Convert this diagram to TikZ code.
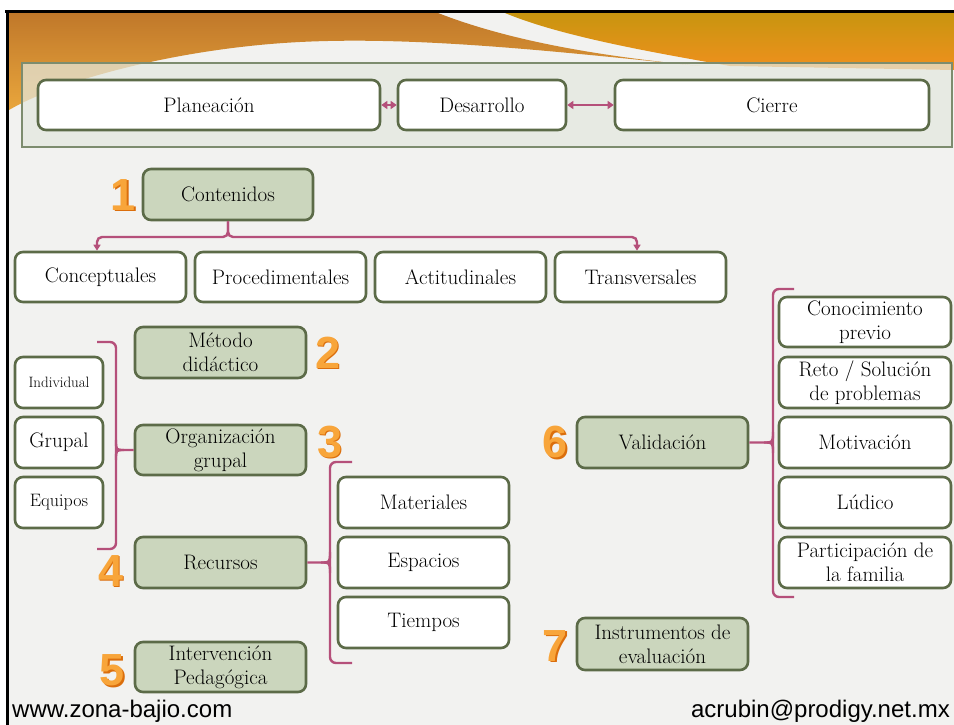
\documentclass[tikz,border=0pt]{standalone}
\usepackage{fontspec}
\newfontfamily\footfont{Liberation Sans}
\newfontfamily\digitfont{Liberation Sans}
\usetikzlibrary{arrows.meta}
\definecolor{boxline}{HTML}{5C6B48}
\definecolor{boxgreen}{HTML}{CBD6BD}
\definecolor{conncol}{HTML}{B5507A}
\definecolor{slidebg}{HTML}{F2F2F0}
\definecolor{barfill}{HTML}{E4E8DE}
\definecolor{barline}{HTML}{7D8C6E}
\definecolor{digitor}{HTML}{F8A53A}
\definecolor{digitdark}{HTML}{DB6E0C}
\definecolor{orA1}{HTML}{C0782A}
\definecolor{orA2}{HTML}{E9A63C}
\definecolor{orB1}{HTML}{C8950F}
\definecolor{orB2}{HTML}{F0901E}
\tikzset{
  box/.style={draw=boxline, line width=2.6pt, rounded corners=8pt, align=center,
    inner sep=0pt, font=\fontsize{21}{24}\selectfont, text=black},
  wbox/.style={box, fill=white},
  gbox/.style={box, fill=boxgreen},
  conn/.style={draw=conncol, line width=2.4pt},
  tipboth/.style={{Triangle[length=6pt,width=8pt]}-{Triangle[length=6pt,width=8pt]}},
  tipend/.style={-{Triangle[length=6pt,width=7pt]}},
  digitface/.style={font=\digitfont\bfseries\fontsize{45}{45}\selectfont, text=digitor, inner sep=0pt},
  digitshade/.style={font=\digitfont\bfseries\fontsize{45}{45}\selectfont, text=digitdark, inner sep=0pt},
  foot/.style={font=\footfont\fontsize{24}{24}\selectfont, inner sep=0pt, text=black},
}
\begin{document}
\begin{tikzpicture}[x=1pt,y=-1pt]
\useasboundingbox (0,0) rectangle (954,725);
\fill[white] (0,0) rectangle (954,725);
% slide background
\fill[slidebg] (9,13) rectangle (954,725);
% orange header decoration
\shade[top color=orA1, bottom color=orA2]
  (9,13) -- (438,13) .. controls (520,45) and (620,58) .. (700,66)
  .. controls (560,52) and (420,36) .. (300,42)
  .. controls (180,48) and (60,80) .. (9,110) -- cycle;
\shade[top color=orB1, bottom color=orB2]
  (505,13) -- (954,13) -- (954,70) -- (730,66)
  .. controls (650,52) and (560,36) .. (505,13) -- cycle;
% frame lines
\draw[line width=3pt] (5,11.5) -- (954,11.5);
\draw[line width=3pt] (7.5,11.5) -- (7.5,725);
% header bar
\fill[barfill, fill opacity=0.72] (22,63) rectangle (952,147);
\draw[barline, line width=2pt] (22,63) rectangle (952,147);

% header boxes
\node[wbox, minimum width=342pt, minimum height=50pt] (plan) at (209,105) {Planeación};
\node[wbox, minimum width=168pt, minimum height=50pt] (des) at (482,105) {Desarrollo};
\node[wbox, minimum width=314pt, minimum height=50pt] (cie) at (772,105) {Cierre};
\draw[conn, tipboth] (plan.east) -- (des.west);
\draw[conn, tipboth] (des.east) -- (cie.west);

% 1 Contenidos
\node[gbox, minimum width=170pt, minimum height=51pt] (cont) at (228,194.5) {Contenidos};
\node[wbox, minimum width=171pt, minimum height=50pt] (conc) at (100.5,277) {Conceptuales};
\node[wbox, minimum width=171pt, minimum height=50pt] (proc) at (280.5,277) {Procedimentales};
\node[wbox, minimum width=171pt, minimum height=50pt] (acti) at (460.5,277) {Actitudinales};
\node[wbox, minimum width=171pt, minimum height=50pt] (trans) at (640.5,277) {Transversales};
\coordinate (cj) at (228,237);
\draw[conn, tipend, rounded corners=5pt] (cont.south) -- (cj) -| ([xshift=-3.5pt]conc.north);
\draw[conn, tipend, rounded corners=5pt] (cont.south) -- (cj) -| ([xshift=-3.5pt]trans.north);

% 2 Metodo
\node[gbox, minimum width=171pt, minimum height=51pt] (met) at (220.5,352.5) {Método\\didáctico};

% 3 Organizacion
\node[gbox, minimum width=171pt, minimum height=50pt] (org) at (220.5,450) {Organización\\grupal};
\node[wbox, minimum width=88pt, minimum height=51pt, font=\fontsize{15}{17}\selectfont] (ind) at (59,382.5) {Individual};
\node[wbox, minimum width=88pt, minimum height=51pt] (gru) at (59,442.5) {Grupal};
\node[wbox, minimum width=88pt, minimum height=51pt, font=\fontsize{18}{20}\selectfont] (equ) at (59,502.5) {Equipos};
\coordinate (b1t) at (97,342);
\coordinate (b1b) at (97,549);
\draw[conn, rounded corners=6pt] (b1t) -- (116,342) -- (116,549) -- (b1b);
\draw[conn] (116,440) .. controls (116,450) .. (124,450) -- (org.west);
\draw[conn] (116,460) .. controls (116,450) .. (124,450);

% 4 Recursos
\node[gbox, minimum width=171pt, minimum height=51pt] (rec) at (220.5,562.5) {Recursos};
\node[wbox, minimum width=171pt, minimum height=51pt] (mat) at (423.5,502.5) {Materiales};
\node[wbox, minimum width=171pt, minimum height=51pt] (esp) at (423.5,562.5) {Espacios};
\node[wbox, minimum width=171pt, minimum height=51pt] (tie) at (423.5,622.5) {Tiempos};
\coordinate (b2t) at (352,462);
\coordinate (b2b) at (352,663);
\draw[conn, rounded corners=6pt] (b2t) -- (330,462) -- (330,663) -- (b2b);
\draw[conn] (330,552) .. controls (330,562.5) .. (321,562.5) -- (rec.east);
\draw[conn] (330,573) .. controls (330,562.5) .. (321,562.5);

% 5 Intervencion
\node[gbox, minimum width=171pt, minimum height=50pt] (int) at (220.5,667) {Intervención\\Pedagógica};

% 6 Validacion
\node[gbox, minimum width=171pt, minimum height=51pt] (val) at (662.5,442.5) {Validación};
\node[wbox, minimum width=172pt, minimum height=50pt] (con) at (865,322) {Conocimiento\\previo};
\node[wbox, minimum width=172pt, minimum height=51pt] (ret) at (865,382.5) {Reto / Solución\\de problemas};
\node[wbox, minimum width=172pt, minimum height=51pt] (mot) at (865,442.5) {Motivación};
\node[wbox, minimum width=172pt, minimum height=51pt] (lud) at (865,502.5) {Lúdico};
\node[wbox, minimum width=172pt, minimum height=51pt] (par) at (865,562.5) {Participación de\\la familia};
\coordinate (b3t) at (794,289);
\coordinate (b3b) at (794,597);
\draw[conn, rounded corners=6pt] (b3t) -- (773,289) -- (773,597) -- (b3b);
\draw[conn] (773,432) .. controls (773,442.5) .. (764,442.5) -- (val.east);
\draw[conn] (773,453) .. controls (773,442.5) .. (764,442.5);

% 7 Instrumentos
\node[gbox, minimum width=171pt, minimum height=52pt] (ins) at (662.5,644) {Instrumentos de\\evaluación};

% digits
\foreach \d/\x/\y in {1/123.5/195, 2/328/352.5, 3/330/442, 4/111/571, 5/112.5/670.5, 6/555.5/442.5, 7/555.5/646}{
  \node[digitshade] (ds\d) at (\x+1.5,\y+1.5) {\d};
  \node[digitface] (d\d) at (\x,\y) {\d};
}

% footer
\node[foot, anchor=base west] (web) at (12,717) {www.zona-bajio.com};
\node[foot, anchor=base east] (mail) at (950,717) {acrubin@prodigy.net.mx};
\end{tikzpicture}
\end{document}
